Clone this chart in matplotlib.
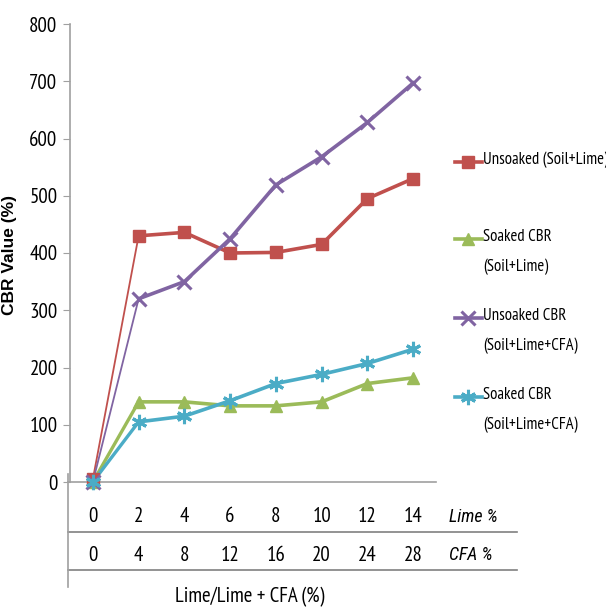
import numpy as np
import matplotlib
matplotlib.use("Agg")
import matplotlib.pyplot as plt
from matplotlib.lines import Line2D

# data
lime = [0, 2, 4, 6, 8, 10, 12, 14]
cfa = [0, 4, 8, 12, 16, 20, 24, 28]
unsoaked_lime = [5, 430, 436, 400, 401, 415, 495, 530]
soaked_lime = [0, 140, 140, 133, 133, 140, 172, 182]
unsoaked_cfa = [0, 320, 350, 425, 519, 568, 628, 697]
soaked_cfa = [0, 105, 115, 142, 172, 188, 207, 232]

labels = ["Unsoaked (Soil+Lime)", "Soaked CBR\n(Soil+Lime)",
          "Unsoaked CBR\n(Soil+Lime+CFA)", "Soaked CBR\n(Soil+Lime+CFA)"]
colors = ["#C0504D", "#9BBB59", "#8064A2", "#4BACC6"]
markers = ["s", "^", "x", (6, 2, 0)]
thin_first = [True, False, True, False]

narrow = ["PT Sans Narrow", "DejaVu Sans"]
narrow_it = ["Roboto Condensed", "DejaVu Sans"]


def marker_style(m):
    if m == "x":
        return 10, 2.2
    if m == (6, 2, 0):
        return 11, 2.2
    return 9, 1


fig = plt.figure(figsize=(6.06, 6.10), dpi=100)
ax = fig.add_axes([70/606, 1-482/610, 366/606, 458/610])

x = np.arange(len(lime))
series = [unsoaked_lime, soaked_lime, unsoaked_cfa, soaked_cfa]
for y, c, m, thin in zip(series, colors, markers, thin_first):
    ms, mew = marker_style(m)
    # first segment (0 -> 2) drawn thinner for the unsoaked series
    ax.plot(x[:2], y[:2], color=c, lw=1.3 if thin else 2.4, clip_on=False, zorder=3)
    ax.plot(x[1:], y[1:], color=c, lw=2.6, clip_on=False, zorder=3)
    ax.plot(x, y, ls="none", marker=m, color=c, ms=ms, mew=mew,
            clip_on=False, zorder=4)

ax.set_xlim(-0.5, 7.5)
ax.set_ylim(0, 800)
ax.set_yticks(range(0, 801, 100))
ax.set_xticks([])
for s in ["top", "right", "bottom"]:
    ax.spines[s].set_visible(False)
ax.spines["left"].set_color("#A0A0A0")
ax.spines["left"].set_linewidth(1.2)
ax.tick_params(axis="y", direction="out", length=5, color="#A0A0A0",
               labelsize=15, pad=4)
for t in ax.get_yticklabels():
    t.set_fontfamily(narrow)
ax.axhline(0, color="#A0A0A0", lw=1.2, xmin=-0.005, clip_on=False)

ax.set_ylabel("CBR Value (%)", fontsize=12.5, family=["Liberation Sans", "DejaVu Sans"],
              fontweight="bold")
ax.yaxis.set_label_coords(-0.145, 0.496)

# category table under the axis
trans = ax.get_xaxis_transform()
for i, (a, b) in enumerate(zip(lime, cfa)):
    ax.text(i, -0.076, str(a), transform=trans, ha="center", va="center",
            fontsize=15, family=narrow)
    ax.text(i, -0.160, str(b), transform=trans, ha="center", va="center",
            fontsize=15, family=narrow)
ax.text(1.035, -0.076, "Lime %", transform=ax.transAxes, ha="left", va="center",
        fontsize=13, family=narrow_it, style="italic")
ax.text(1.035, -0.160, "CFA %", transform=ax.transAxes, ha="left", va="center",
        fontsize=13, family=narrow_it, style="italic")
for yy in [-0.109, -0.192]:
    ax.plot([-0.005, 1.22], [yy, yy], transform=ax.transAxes, color="#808080",
            lw=1.2, clip_on=False)
ax.plot([-0.005, -0.005], [0.017, -0.229], transform=ax.transAxes,
        color="#A0A0A0", lw=1.2, clip_on=False)
ax.text(0.49, -0.252, "Lime/Lime + CFA (%)", transform=ax.transAxes,
        ha="center", va="center", fontsize=15, family=narrow)

# legend drawn by hand
leg_y = [162, 239, 318, 397]
for yy, lab, c, m in zip(leg_y, labels, colors, markers):
    fy = 1 - yy/610
    ms, mew = marker_style(m)
    fig.add_artist(Line2D([455/606, 482/606], [fy, fy], color=c, lw=2.6))
    fig.add_artist(Line2D([468/606], [fy], marker=m, color=c, ms=ms, mew=mew))
    fig.text(483/606, fy + 10/610, lab, ha="left", va="top", fontsize=12,
             family=narrow, linespacing=2.1)

fig.savefig("out.png", dpi=100)
